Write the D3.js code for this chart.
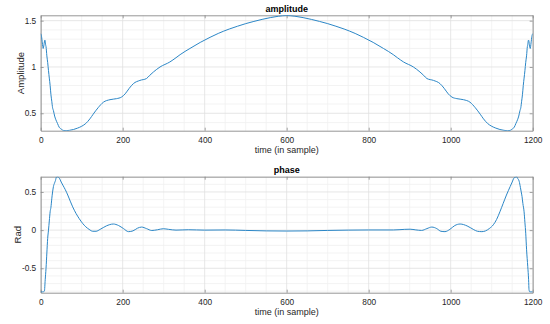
<!DOCTYPE html>
<html>
<head>
<meta charset="utf-8">
<script src="https://cdn.jsdelivr.net/npm/d3@7"></script>
<style>
  body { margin: 0; background: #fff; }
  svg { display: block; font-family: "Liberation Sans", Arial, Helvetica, sans-serif; }
  .axis path, .axis line { stroke: #8a8a8a; }
  .axis text { fill: #262626; font-size: 8.3px; }
</style>
</head>
<body>
<div id="chart"></div>
<script>
// amplitude curve (sample index, value)
const ampX = [0,2,4,6,8,10,11,12,13,15,17,19,21,23,25,27,29,31,34,37,41,45,50,55,62,70,80,90,100,110,120,128,140,153,169,185,197,206,216,226,242,258,266,275,291,315,330,340,364,389,413,433,460,480,500,520,540,560,580,600,620,640,660,680,700,720,740,767,787,811,836,860,870,885,909,925,934,942,958,974,984,994,1003,1015,1031,1047,1060,1072,1080,1090,1100,1110,1120,1130,1138,1145,1150,1155,1159,1163,1166,1169,1171,1173,1175,1177,1179,1181,1183,1185,1187,1188,1189,1190,1192,1194,1196,1198,1200];
const ampY = [1.36,1.33,1.26,1.20,1.24,1.29,1.28,1.24,1.22,1.12,1.05,0.96,0.88,0.80,0.70,0.63,0.56,0.53,0.47,0.43,0.39,0.35,0.33,0.315,0.312,0.316,0.325,0.34,0.36,0.39,0.44,0.49,0.56,0.62,0.647,0.658,0.675,0.71,0.77,0.82,0.855,0.875,0.91,0.946,1.0,1.054,1.10,1.133,1.20,1.265,1.32,1.362,1.41,1.44,1.468,1.492,1.514,1.533,1.548,1.556,1.548,1.533,1.514,1.492,1.468,1.44,1.41,1.362,1.32,1.265,1.20,1.133,1.10,1.054,1.0,0.946,0.91,0.875,0.855,0.82,0.77,0.71,0.675,0.658,0.647,0.62,0.56,0.49,0.44,0.39,0.36,0.34,0.325,0.316,0.312,0.315,0.33,0.35,0.39,0.43,0.47,0.53,0.56,0.63,0.70,0.80,0.88,0.96,1.05,1.12,1.22,1.24,1.28,1.29,1.24,1.20,1.26,1.33,1.36];

// phase curve (sample index, rad)
const phaseX = [0,5,9,11,13,15,17,19,21,23,25,27,29,31,34,36,38,40,43,45,50,54,60,66,72,78,86,94,102,110,118,127,135,145,160,177,190,202,214,225,236,246,258,271,285,299,312,330,360,400,450,500,550,600,650,700,750,800,860,888,901,915,929,942,954,966,976,986,998,1010,1023,1040,1055,1065,1076,1085,1094,1104,1112,1120,1128,1136,1145,1150,1154,1158,1161,1163,1167,1170,1172,1174,1176,1179,1181,1183,1185,1188,1190,1191,1193,1200];
const phaseY = [-0.81,-0.81,-0.80,-0.65,-0.50,-0.30,-0.11,0.00,0.12,0.24,0.30,0.41,0.50,0.57,0.62,0.65,0.69,0.70,0.695,0.685,0.63,0.59,0.53,0.46,0.38,0.305,0.22,0.15,0.09,0.043,0.01,-0.015,-0.015,0.01,0.055,0.08,0.06,0.02,-0.02,-0.01,0.025,0.04,0.02,-0.005,0.005,0.018,0.01,0.0,0.005,0.0,0.002,-0.004,-0.01,-0.012,-0.01,-0.004,0.0,0.002,0.002,0.01,0.012,0.003,-0.004,0.02,0.04,0.02,-0.015,-0.02,0.01,0.06,0.08,0.055,0.01,-0.015,-0.02,-0.01,0.02,0.07,0.14,0.24,0.35,0.46,0.57,0.63,0.68,0.695,0.70,0.68,0.64,0.56,0.50,0.44,0.35,0.24,0.10,-0.04,-0.25,-0.48,-0.65,-0.78,-0.81,-0.81];

const xTicks = [0,200,400,600,800,1000,1200];
const ampTicks = [0.5,1,1.5];
const phaseTicks = [-0.5,0,0.5];

const W = 550, H = 324;
const svg = d3.select("#chart").append("svg").attr("width", W).attr("height", H);

// plain matlab-like numbers, ascii minus
const plain = d => String(d);

// draws one MATLAB style panel
function drawPanel(opts) {
  const x = d3.scaleLinear().domain([0,1200]).range([40.7,532.7]);
  const y = d3.scaleLinear().domain(opts.yDomain).range([opts.bottom, opts.top]);
  const g = svg.append("g");

  g.append("clipPath").attr("id", opts.id)
    .append("rect").attr("x", x(0)).attr("y", opts.top)
    .attr("width", x(1200) - x(0)).attr("height", opts.bottom - opts.top);

  // minor grid
  const xMinor = d3.range(0, 1201, 50).filter(d => !xTicks.includes(d));
  const yMinor = d3.range(Math.ceil(opts.yDomain[0]*10), Math.floor(opts.yDomain[1]*10)+1)
    .map(d => d/10).filter(d => !opts.yTicks.some(t => Math.abs(t-d) < 1e-6));
  g.selectAll(".xminor").data(xMinor).enter().append("line")
    .attr("x1", d => x(d)).attr("x2", d => x(d)).attr("y1", opts.top).attr("y2", opts.bottom)
    .attr("stroke", "#f0f0f0").attr("stroke-width", 0.8);
  g.selectAll(".yminor").data(yMinor).enter().append("line")
    .attr("x1", x(0)).attr("x2", x(1200)).attr("y1", d => y(d)).attr("y2", d => y(d))
    .attr("stroke", "#f0f0f0").attr("stroke-width", 0.8);
  // major grid
  g.selectAll(".xmajor").data(xTicks).enter().append("line")
    .attr("x1", d => x(d)).attr("x2", d => x(d)).attr("y1", opts.top).attr("y2", opts.bottom)
    .attr("stroke", "#dfdfdf").attr("stroke-width", 0.8);
  g.selectAll(".ymajor").data(opts.yTicks).enter().append("line")
    .attr("x1", x(0)).attr("x2", x(1200)).attr("y1", d => y(d)).attr("y2", d => y(d))
    .attr("stroke", "#dfdfdf").attr("stroke-width", 0.8);

  // axes (ticks pointing in, box on)
  g.append("g").attr("class", "axis").attr("transform", `translate(0,${opts.bottom})`)
    .call(d3.axisBottom(x).tickValues(xTicks).tickSizeInner(-3).tickSizeOuter(0).tickPadding(6)
      .tickFormat(plain));
  g.append("g").attr("class", "axis").attr("transform", `translate(0,${opts.top})`)
    .call(d3.axisTop(x).tickValues(xTicks).tickSizeInner(-3).tickSizeOuter(0).tickFormat(""));
  g.append("g").attr("class", "axis").attr("transform", `translate(${x(0)},0)`)
    .call(d3.axisLeft(y).tickValues(opts.yTicks).tickSizeInner(-3).tickSizeOuter(0).tickPadding(4.5)
      .tickFormat(plain));
  g.append("g").attr("class", "axis").attr("transform", `translate(${x(1200)},0)`)
    .call(d3.axisRight(y).tickValues(opts.yTicks).tickSizeInner(-3).tickSizeOuter(0).tickFormat(""));
  g.selectAll(".axis path").attr("stroke-width", 0.9);
  g.selectAll(".axis line").attr("stroke-width", 0.8);

  // curve
  const pts = opts.xs.map((d, i) => [d, opts.ys[i]]);
  g.append("path").datum(pts)
    .attr("clip-path", `url(#${opts.id})`)
    .attr("fill", "none").attr("stroke", "#2b86c6").attr("stroke-width", 1)
    .attr("stroke-linejoin", "round")
    .attr("d", d3.line().x(d => x(d[0])).y(d => y(d[1])).curve(d3.curveMonotoneX));

  // texts
  g.append("text").attr("x", (x(0)+x(1200))/2).attr("y", opts.top - 3.5)
    .attr("text-anchor", "middle").attr("font-size", 9).attr("font-weight", "bold")
    .attr("fill", "#000").text(opts.title);
  g.append("text").attr("x", (x(0)+x(1200))/2).attr("y", opts.bottom + 22.5)
    .attr("text-anchor", "middle").attr("font-size", 9).attr("fill", "#262626")
    .text("time (in sample)");
  g.append("text")
    .attr("transform", `translate(${opts.ylabX},${(opts.top+opts.bottom)/2}) rotate(-90)`)
    .attr("text-anchor", "middle").attr("font-size", 9.5).attr("fill", "#262626")
    .text(opts.ylabel);
}

drawPanel({ id: "clipA", top: 15.3, bottom: 130.7, yDomain: [0.312, 1.558], yTicks: ampTicks,
  xs: ampX, ys: ampY, title: "amplitude", ylabel: "Amplitude", ylabX: 24 });
drawPanel({ id: "clipP", top: 176.7, bottom: 292.7, yDomain: [-0.82, 0.70], yTicks: phaseTicks,
  xs: phaseX, ys: phaseY, title: "phase", ylabel: "Rad", ylabX: 21 });
</script>
</body>
</html>
